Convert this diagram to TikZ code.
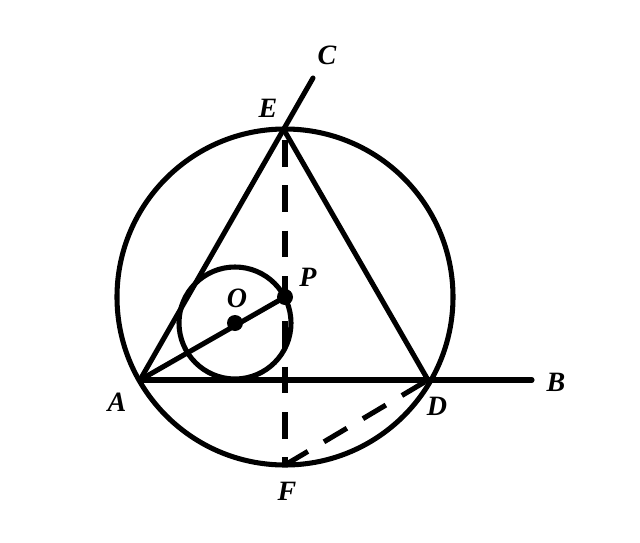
\documentclass[tikz,border=0pt]{standalone}
\usepackage{fontspec}
\setmainfont{Liberation Serif}
\begin{document}
\begin{tikzpicture}[x=0.75pt,y=-0.75pt,
  geo/.style={line width=3.8pt,line cap=round,line join=round},
  dsh/.style={line width=3.8pt,dash pattern=on 20pt off 14pt},
  lbl/.style={font=\fontsize{21}{24}\selectfont\bfseries\itshape,inner sep=0pt},
  dot/.style={circle,fill=black,minimum size=12pt,inner sep=0pt}]
\useasboundingbox (0,0) rectangle (640,543);
\coordinate (M) at (285,297);
\coordinate (A) at (140,380);
\coordinate (D) at (428,380);
\coordinate (B) at (532,380);
\coordinate (E) at (284,130);
\coordinate (C) at (313,78);
\coordinate (F) at (285,465);
\coordinate (Oc) at (235,323);
\coordinate (Pc) at (285,297);
\draw[geo] (M) circle[radius=168];
\draw[geo] (Oc) circle[radius=56];
\draw[geo] (A) -- (B);
\draw[geo] (A) -- (C);
\draw[geo] (E) -- (D);
\draw[geo] (A) -- (Pc);
\draw[dsh] (285,140) -- (F);
\draw[dsh] (F) -- (D);
\node[dot] (O) at (Oc) {};
\node[dot] (P) at (Pc) {};
\node[lbl] (lC) at (327,55) {C};
\node[lbl] (lE) at (268,108) {E};
\node[lbl] (lP) at (308,277) {P};
\node[lbl] (lO) at (237,298) {O};
\node[lbl] (lA) at (117,402) {A};
\node[lbl] (lB) at (556,382) {B};
\node[lbl] (lD) at (437,406) {D};
\node[lbl] (lF) at (287,491) {F};
\end{tikzpicture}
\end{document}
